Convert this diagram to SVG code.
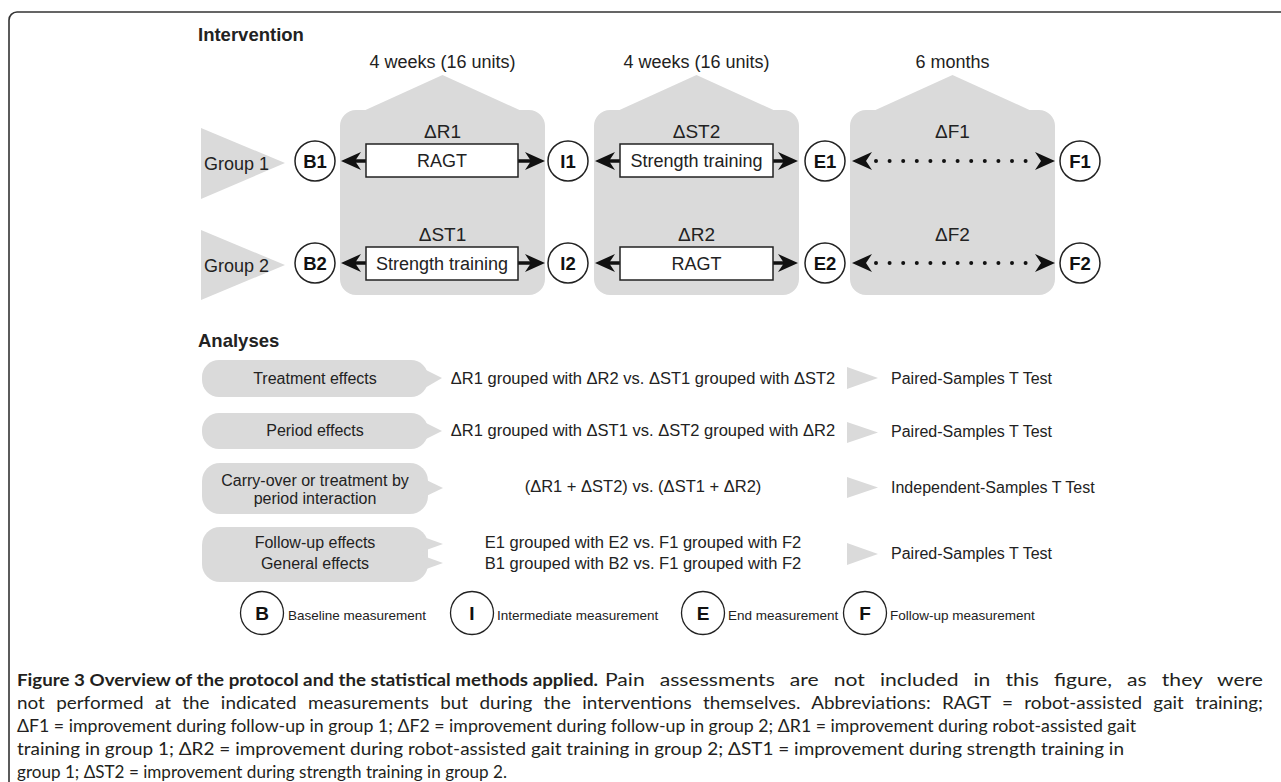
<svg xmlns="http://www.w3.org/2000/svg" width="1281" height="782" viewBox="0 0 1281 782">
<defs>
<style>
text{font-family:"Liberation Sans",Arial,Helvetica,sans-serif;fill:#222}
.bg{fill:#dadada}
.hd{font-size:18.5px;font-weight:bold}
.lbl{font-size:18px}
.mid{text-anchor:middle}
.dl{font-size:19px;text-anchor:middle}
.node circle{fill:#fff;stroke:#222;stroke-width:1.5}
.node text{font-size:18.5px;font-weight:bold;text-anchor:middle;fill:#111}
.box{fill:#fff;stroke:#222;stroke-width:1.5}
.solid{stroke:#111;stroke-width:3.5;fill:none}
.dot{stroke:#111;stroke-width:4;fill:none;stroke-linecap:round;stroke-dasharray:0 13.6}
.an{font-size:16px}
.ex{font-size:16.5px;text-anchor:middle}
.res{font-size:16px}
.lg circle{fill:#fff;stroke:#222;stroke-width:1.3}
.lg .k{font-size:19px;font-weight:bold;text-anchor:middle;fill:#111}
.lg .v{font-size:13.5px}
text.cap{font-family:Lato,"Open Sans","Liberation Sans",sans-serif;font-size:17.5px;fill:#231f20}
</style>
<marker id="ah" viewBox="0 -9 20 18" refX="7" refY="0" markerWidth="20" markerHeight="18" markerUnits="userSpaceOnUse" orient="auto-start-reverse">
<path d="M0,-9 L20,0 L0,9 L6,0 Z" fill="#111"/>
</marker>
<marker id="ahd" viewBox="0 -9 20 18" refX="-4" refY="0" markerWidth="20" markerHeight="18" markerUnits="userSpaceOnUse" orient="auto-start-reverse">
<path d="M0,-9 L20,0 L0,9 L6,0 Z" fill="#111"/>
</marker>
</defs>
<rect width="1281" height="782" fill="#fff"/>
<path d="M9,782 V20 A8,8 0 0 1 17,12 H1281" fill="none" stroke="#333" stroke-width="1.6"/>

<text class="hd" x="198" y="41">Intervention</text>

<g id="period-1">
<path class="bg" d="M340,126 A16,16 0 0 1 356,110 H365.5 L442.5,75 L519.5,110 H529 A16,16 0 0 1 545,126 V279 A16,16 0 0 1 529,295 H356 A16,16 0 0 1 340,279 Z"/>
<text class="lbl mid" x="442.5" y="68">4 weeks (16 units)</text>
</g>
<g id="period-2">
<path class="bg" d="M594,126 A16,16 0 0 1 610,110 H619.5 L696.5,75 L773.5,110 H783 A16,16 0 0 1 799,126 V279 A16,16 0 0 1 783,295 H610 A16,16 0 0 1 594,279 Z"/>
<text class="lbl mid" x="696.5" y="68">4 weeks (16 units)</text>
</g>
<g id="period-3">
<path class="bg" d="M850,126 A16,16 0 0 1 866,110 H875.5 L952.5,75 L1029.5,110 H1039 A16,16 0 0 1 1055,126 V279 A16,16 0 0 1 1039,295 H866 A16,16 0 0 1 850,279 Z"/>
<text class="lbl mid" x="952.5" y="68">6 months</text>
</g>

<g id="group-1">
<polygon class="bg" points="201,128 285,163 201,199"/>
<text class="lbl" x="204" y="170">Group 1</text>
</g>
<g id="group-2">
<polygon class="bg" points="201,230 285,265 201,300"/>
<text class="lbl" x="204" y="272">Group 2</text>
</g>

<g id="connectors">
<path class="solid" d="M354,161 H532" marker-start="url(#ah)" marker-end="url(#ah)"/>
<path class="solid" d="M608,161 H785" marker-start="url(#ah)" marker-end="url(#ah)"/>
<path class="dot" d="M876,161 H1031" marker-start="url(#ahd)" marker-end="url(#ahd)"/>
<path class="solid" d="M354,263 H532" marker-start="url(#ah)" marker-end="url(#ah)"/>
<path class="solid" d="M608,263 H785" marker-start="url(#ah)" marker-end="url(#ah)"/>
<path class="dot" d="M876,263 H1031" marker-start="url(#ahd)" marker-end="url(#ahd)"/>
<text class="dl" x="442.5" y="138">ΔR1</text>
<rect class="box" x="366" y="144" width="152" height="33"/>
<text class="lbl mid" x="442" y="167">RAGT</text>
<text class="dl" x="696.5" y="138">ΔST2</text>
<rect class="box" x="620" y="144" width="153" height="33"/>
<text class="lbl mid" x="696.5" y="167">Strength training</text>
<text class="dl" x="952.5" y="138">ΔF1</text>
<text class="dl" x="442.5" y="241">ΔST1</text>
<rect class="box" x="366" y="247" width="152" height="33"/>
<text class="lbl mid" x="442" y="270">Strength training</text>
<text class="dl" x="696.5" y="241">ΔR2</text>
<rect class="box" x="620" y="247" width="153" height="33"/>
<text class="lbl mid" x="696.5" y="270">RAGT</text>
<text class="dl" x="952.5" y="241">ΔF2</text>
</g>

<g id="B1" class="node"><circle cx="315" cy="161" r="20"/><text x="315" y="167.5">B1</text></g>
<g id="I1" class="node"><circle cx="568" cy="161" r="20"/><text x="568" y="167.5">I1</text></g>
<g id="E1" class="node"><circle cx="825" cy="161" r="20"/><text x="825" y="167.5">E1</text></g>
<g id="F1" class="node"><circle cx="1080" cy="161" r="20"/><text x="1080" y="167.5">F1</text></g>
<g id="B2" class="node"><circle cx="315" cy="263" r="20"/><text x="315" y="269.5">B2</text></g>
<g id="I2" class="node"><circle cx="568" cy="263" r="20"/><text x="568" y="269.5">I2</text></g>
<g id="E2" class="node"><circle cx="825" cy="263" r="20"/><text x="825" y="269.5">E2</text></g>
<g id="F2" class="node"><circle cx="1080" cy="263" r="20"/><text x="1080" y="269.5">F2</text></g>

<text class="hd" x="198" y="347">Analyses</text>

<g id="analysis-treatment">
<rect class="bg" x="202" y="360" width="226" height="37" rx="17"/>
<polygon class="bg" points="418,366 442,378 418,392"/>
<text class="an mid" x="315" y="384">Treatment effects</text>
<text class="ex" x="643" y="384">ΔR1 grouped with ΔR2 vs. ΔST1 grouped with ΔST2</text>
<polygon class="bg" points="847,367 878,378 847,389"/>
<text class="res" x="891" y="384">Paired-Samples T Test</text>
</g>
<g id="analysis-period">
<rect class="bg" x="202" y="413" width="226" height="36" rx="17"/>
<polygon class="bg" points="418,419 442,431 418,443"/>
<text class="an mid" x="315" y="436">Period effects</text>
<text class="ex" x="643" y="436">ΔR1 grouped with ΔST1 vs. ΔST2 grouped with ΔR2</text>
<polygon class="bg" points="847,422 878,432.5 847,443"/>
<text class="res" x="891" y="437">Paired-Samples T Test</text>
</g>
<g id="analysis-carryover">
<rect class="bg" x="202" y="463" width="226" height="51" rx="18"/>
<polygon class="bg" points="418,476 443,488 418,500"/>
<text class="an mid" x="315" y="486">Carry-over or treatment by</text>
<text class="an mid" x="315" y="504">period interaction</text>
<text class="ex" x="643" y="492">(ΔR1 + ΔST2) vs. (ΔST1 + ΔR2)</text>
<polygon class="bg" points="847,477 878,487.5 847,498"/>
<text class="res" x="891" y="493">Independent-Samples T Test</text>
</g>
<g id="analysis-followup">
<rect class="bg" x="202" y="527" width="226" height="55" rx="18"/>
<polygon class="bg" points="418,535 443,544 418,553"/>
<polygon class="bg" points="418,554 443,563 418,572"/>
<text class="an mid" x="315" y="548">Follow-up effects</text>
<text class="an mid" x="315" y="569">General effects</text>
<text class="ex" x="643" y="548">E1 grouped with E2 vs. F1 grouped with F2</text>
<text class="ex" x="643" y="569">B1 grouped with B2 vs. F1 grouped with F2</text>
<polygon class="bg" points="847,543 878,554 847,565"/>
<text class="res" x="891" y="559">Paired-Samples T Test</text>
</g>

<g id="legend" class="lg">
<circle cx="262" cy="613" r="21.5"/><text class="k" x="262" y="620">B</text>
<text class="v" x="288" y="620">Baseline measurement</text>
<circle cx="472" cy="613" r="21.5"/><text class="k" x="472" y="620">I</text>
<text class="v" x="497" y="620">Intermediate measurement</text>
<circle cx="703" cy="613" r="21.5"/><text class="k" x="703" y="620">E</text>
<text class="v" x="728" y="620">End measurement</text>
<circle cx="865" cy="613" r="21.5"/><text class="k" x="865" y="620">F</text>
<text class="v" x="890" y="620">Follow-up measurement</text>
</g>

<g id="caption">
<text class="cap" x="17" y="686" font-weight="bold" textLength="581" lengthAdjust="spacingAndGlyphs">Figure 3 Overview of the protocol and the statistical methods applied.</text>
<text class="cap" x="605" y="686" word-spacing="8" textLength="658" lengthAdjust="spacingAndGlyphs">Pain assessments are not included in this figure, as they were</text>
<text class="cap" x="17" y="709" word-spacing="6" textLength="1246" lengthAdjust="spacingAndGlyphs">not performed at the indicated measurements but during the interventions themselves. Abbreviations: RAGT = robot-assisted gait training;</text>
<text class="cap" x="17" y="732" textLength="1119" lengthAdjust="spacingAndGlyphs">ΔF1 = improvement during follow-up in group 1; ΔF2 = improvement during follow-up in group 2; ΔR1 = improvement during robot-assisted gait</text>
<text class="cap" x="17" y="755" textLength="1107" lengthAdjust="spacingAndGlyphs">training in group 1; ΔR2 = improvement during robot-assisted gait training in group 2; ΔST1 = improvement during strength training in</text>
<text class="cap" x="17" y="778" textLength="490" lengthAdjust="spacingAndGlyphs">group 1; ΔST2 = improvement during strength training in group 2.</text>
</g>
</svg>
